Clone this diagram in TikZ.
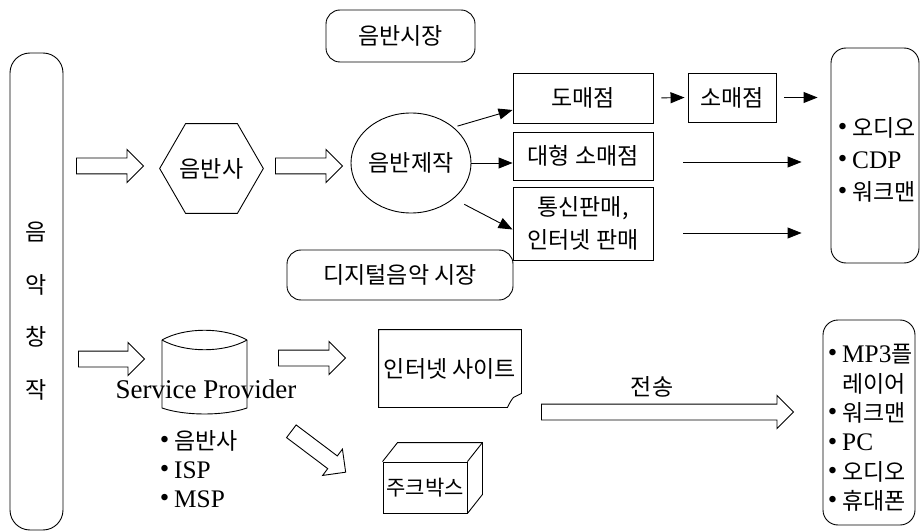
\documentclass[tikz,border=0pt]{standalone}
\usepackage{fontspec}
\setmainfont{Liberation Serif}
\newfontfamily\kr{Noto Sans CJK KR}
\newfontfamily\latf[Scale=1.1]{Liberation Serif}
\usetikzlibrary{shapes.geometric,shapes.arrows,arrows.meta}
\newcommand\bul{{\rmfamily\fontsize{27}{27}\selectfont\raisebox{0.03em}{•}}\hspace{5pt}}
\newcommand\lt[1]{{\latf #1}}
\tikzset{
  kr/.style={font=\kr\fontsize{23}{28}\selectfont},
  box/.style={draw, rectangle, inner sep=0pt},
  rbox/.style={draw, rectangle, inner sep=0pt, rounded corners=14pt},
  harrow/.style={single arrow, draw, inner xsep=0pt, inner ysep=7.5pt,
    single arrow head extend=8.5pt, minimum width=32pt, anchor=tail},
  arr/.style={-{Triangle[length=14pt,width=11pt]}},
}
\begin{document}
\begin{tikzpicture}[x=1pt, y=-1pt, line width=0.9pt]
\useasboundingbox (0,0) rectangle (922,532);

% market labels
\node[rbox, minimum width=149pt, minimum height=52pt, kr] (m1) at (400.5,36) {음반시장};
\node[rbox, minimum width=226pt, minimum height=50pt, kr] (m2) at (400,275) {디지털음악 시장};

% composer bar
\node[rbox, rounded corners=20pt, minimum width=53pt, minimum height=477pt] (comp) at (36.5,291.5) {};
\node[align=center, font=\kr\fontsize{23}{52.5}\selectfont] (compt) at (36.5,311) {음\\악\\창\\작};

% upper row
\node[harrow, minimum height=67pt] (h1) at (76,166) {};
\node[draw, regular polygon, regular polygon sides=6, minimum size=99pt, inner sep=0pt, kr] (hex) at (211.5,168.5) {음반사};
\node[harrow, minimum height=67pt] (h2) at (275,166) {};
\node[draw, ellipse, minimum width=120pt, minimum height=100pt, inner sep=0pt, kr] (el) at (411,163) {음반제작};

\node[box, minimum width=140pt, minimum height=50pt, kr] (dm) at (583,98) {도매점};
\node[box, minimum width=140pt, minimum height=48pt, kr] (dh) at (583,156) {대형 소매점};
\node[box, minimum width=140pt, minimum height=73pt, align=center, font=\kr\fontsize{23}{33}\selectfont] (tx) at (583,223.5) {통신판매,\\인터넷 판매};
\node[box, minimum width=88pt, minimum height=49pt, kr] (sm) at (732,97.5) {소매점};

\node[rbox, rounded corners=15pt, minimum width=88pt, minimum height=215pt] (rt) at (875,155.5) {};
\node[align=left, anchor=west, font=\kr\fontsize{23}{32}\selectfont] (rtt) at (834,160) {\bul 오디오\\\bul\lt{CDP}\\\bul 워크맨};

\draw[arr, shorten <=4pt] (el.40) -- ([yshift=-12pt]dm.west);
\draw[arr] (el.east) -- (el.east -| dh.west);
\draw[arr, shorten <=12pt] (el.-40) -- ([yshift=-6pt]tx.west);
\draw[arr, shorten <=8pt, shorten >=3pt] (dm.east) -- (sm.west);
\draw[arr, shorten <=8pt, shorten >=13pt] (sm.east) -- (sm.east -| rt.west);
\draw[arr, shorten <=30pt, shorten >=29pt] ([yshift=-6pt]dh.east) -- ([yshift=-6pt]dh.east -| rt.west);
\draw[arr, shorten <=30pt, shorten >=29pt] ([yshift=-9.5pt]tx.east) -- ([yshift=-9.5pt]tx.east -| rt.west);

% lower row
\node[harrow, minimum height=66pt] (h3) at (78,359) {};
\node[minimum width=85pt, minimum height=74pt, inner sep=0pt] (cyl) at (204.5,374) {};
\draw (162,340) .. controls (185,327) and (224,327) .. (247,340);
\draw (162,340) .. controls (185,353) and (224,353) .. (247,340);
\draw (162,340) -- (162,408) .. controls (185,416) and (224,416) .. (247,408) -- (247,340);
\node[font=\fontsize{27}{30}\selectfont, inner sep=0pt] (sp) at (206,389) {Service Provider};
\node[align=left, anchor=west, font=\kr\fontsize{23}{29}\selectfont] (spl) at (156,469) {\bul 음반사\\\bul\lt{ISP}\\\bul\lt{MSP}};

\node[harrow, minimum height=67pt] (h4) at (278,358) {};
\node[harrow, minimum height=68pt, rotate=-37] (h5) at (291,431) {};

\node[minimum width=142pt, minimum height=77pt, inner sep=0pt, kr] (site) at (450,368.5) {인터넷 사이트};
\draw (site.north west) -- (site.north east) -- ([yshift=14pt]site.south east)
  -- ([yshift=10pt, xshift=-8pt]site.south east)
  .. controls ([yshift=6pt, xshift=-11pt]site.south east) .. ([xshift=-14pt]site.south east)
  -- (site.south west) -- cycle;

\node[box, minimum width=84pt, minimum height=51pt, font=\kr\fontsize{21}{26}\selectfont] (jb) at (425,487.5) {주크박스};
\draw (jb.north west) -- ++(15,-19) -| ([xshift=15pt, yshift=19pt]jb.south east) -- (jb.south east);
\draw (jb.north east) -- ++(15,-19);

\node[harrow, minimum height=252pt] (h6) at (541,412) {};
\node[kr] (ts) at (652,387) {전송};

\node[rbox, rounded corners=15pt, minimum width=92pt, minimum height=205pt] (rb) at (869,422.5) {};
\node[align=left, anchor=west, font=\kr\fontsize{23}{29.4}\selectfont] (rbt) at (824,428) {\bul\lt{MP3}플\\\phantom{\bul}레이어\\\bul 워크맨\\\bul\lt{PC}\\\bul 오디오\\\bul 휴대폰};
\end{tikzpicture}
\end{document}
